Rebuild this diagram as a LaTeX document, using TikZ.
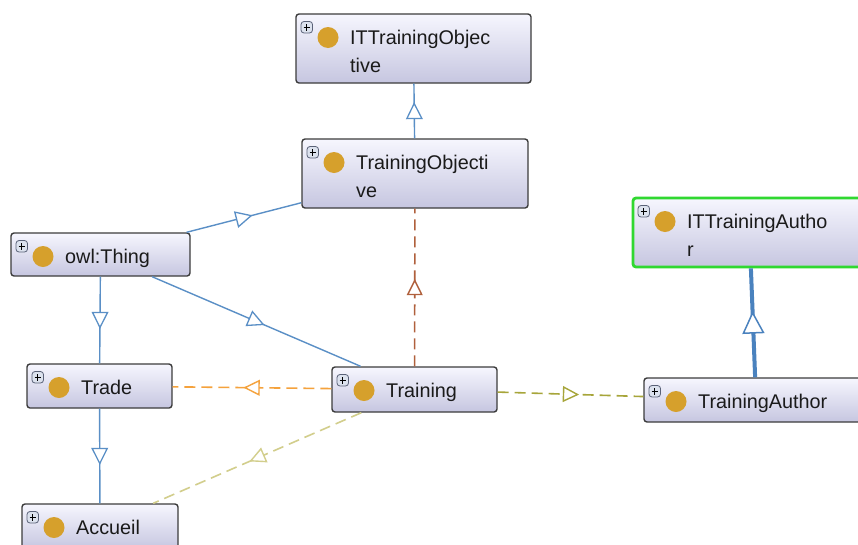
\documentclass[tikz,border=0pt]{standalone}
\usepackage{fontspec}
\setmainfont{Liberation Sans}
\usetikzlibrary{decorations.markings}
\definecolor{edgeblue}{HTML}{5A8FC6}
\definecolor{thickblue}{HTML}{4A82BE}
\definecolor{brownedge}{HTML}{B0603C}
\definecolor{orangeedge}{HTML}{F5A23C}
\definecolor{lightolive}{HTML}{D2CE8C}
\definecolor{oliveedge}{HTML}{A7A53A}
\definecolor{greenborder}{HTML}{30D830}
\definecolor{boxtop}{HTML}{F6F6FE}
\definecolor{boxbottom}{HTML}{C6C6E0}
\definecolor{boxborder}{HTML}{3C3C3C}
\definecolor{goldcircle}{HTML}{D6A02C}
\definecolor{plusfill}{HTML}{DCE2EE}
\definecolor{plusborder}{HTML}{5A6278}
\definecolor{textcol}{HTML}{1A1A1A}
\tikzset{
  classbox/.style={draw=boxborder, line width=1.4pt, rounded corners=3pt,
    top color=boxtop, bottom color=boxbottom, inner sep=0pt,
    path picture={
      \fill[goldcircle] ([shift={(32pt,-23.5pt)}]path picture bounding box.north west) circle (10.5pt);
      \filldraw[fill=plusfill, draw=plusborder, line width=0.8pt]
        ([shift={(5pt,-7.5pt)}]path picture bounding box.north west) rectangle ++(11.5pt,-11.5pt);
      \draw[black, line width=1.4pt] ([shift={(7.5pt,-13.25pt)}]path picture bounding box.north west) -- ++(6.5pt,0pt);
      \draw[black, line width=1.4pt] ([shift={(10.75pt,-10pt)}]path picture bounding box.north west) -- ++(0pt,-6.5pt);
    }},
  classtext/.style={font=\fontsize{19.8}{28}\selectfont, align=left, inner sep=0pt, text=textcol, anchor=north west},
  midtri/.style n args={3}{postaction={decorate, decoration={markings,
      mark=at position 0.5 with {\draw[solid, line width=#3, draw=#1, fill=white] (#2,0) -- (-#2,#2) -- (-#2,-#2) -- cycle;}}}},
  isa/.style={draw=edgeblue, line width=1.4pt, midtri={edgeblue}{7.5}{1.3pt}},
  isathick/.style={draw=thickblue, line width=4pt, midtri={thickblue}{10}{1.5pt}},
  dashedge/.style={draw=#1, line width=1.6pt, dash pattern=on 11pt off 6pt, midtri={#1}{7}{1.4pt}}
}
\newcommand\owlclass[7]{%
  \node[classbox, #7, minimum width={(#4-#2)*1pt}, minimum height={(#5-#3)*1pt}]
    (#1) at ({(#2+#4)/2},{(#3+#5)/2}) {};
  \node[classtext] (#1-t) at ({#2+54},{#3+15.5}) {#6};
}
\begin{document}
\begin{tikzpicture}[x=1pt, y=-1pt]
\clip (0,0) rectangle (858,544);
\fill[white] (0,0) rectangle (858,544);

\owlclass{itto}{296}{14}{531}{83}{ITTrainingObjec\\tive}{}
\owlclass{to}{302}{139}{528}{208}{TrainingObjecti\\ve}{}
\owlclass{thing}{11}{233}{190}{276}{owl:Thing}{}
\owlclass{itta}{633}{198}{866}{267}{ITTrainingAutho\\r}{draw=greenborder, line width=2.8pt}
\owlclass{trade}{27}{364}{172}{408}{Trade}{}
\owlclass{training}{332}{367}{497}{412}{Training}{}
\owlclass{ta}{644}{378}{868}{422}{TrainingAuthor}{}
\owlclass{accueil}{22}{504}{178}{549}{Accueil}{}

\draw[isa] (to) -- (itto);
\draw[isa] (thing) -- (to);
\draw[isa] (thing) -- (training);
\draw[isa] (thing) -- (trade);
\draw[isa] (trade) -- (accueil);
\draw[isathick] (ta) -- (itta);
\draw[dashedge=brownedge] (training) -- (to);
\draw[dashedge=orangeedge] (training) -- (trade);
\draw[dashedge=lightolive] (training) -- (accueil);
\draw[dashedge=oliveedge] (training) -- (ta);
\end{tikzpicture}
\end{document}
